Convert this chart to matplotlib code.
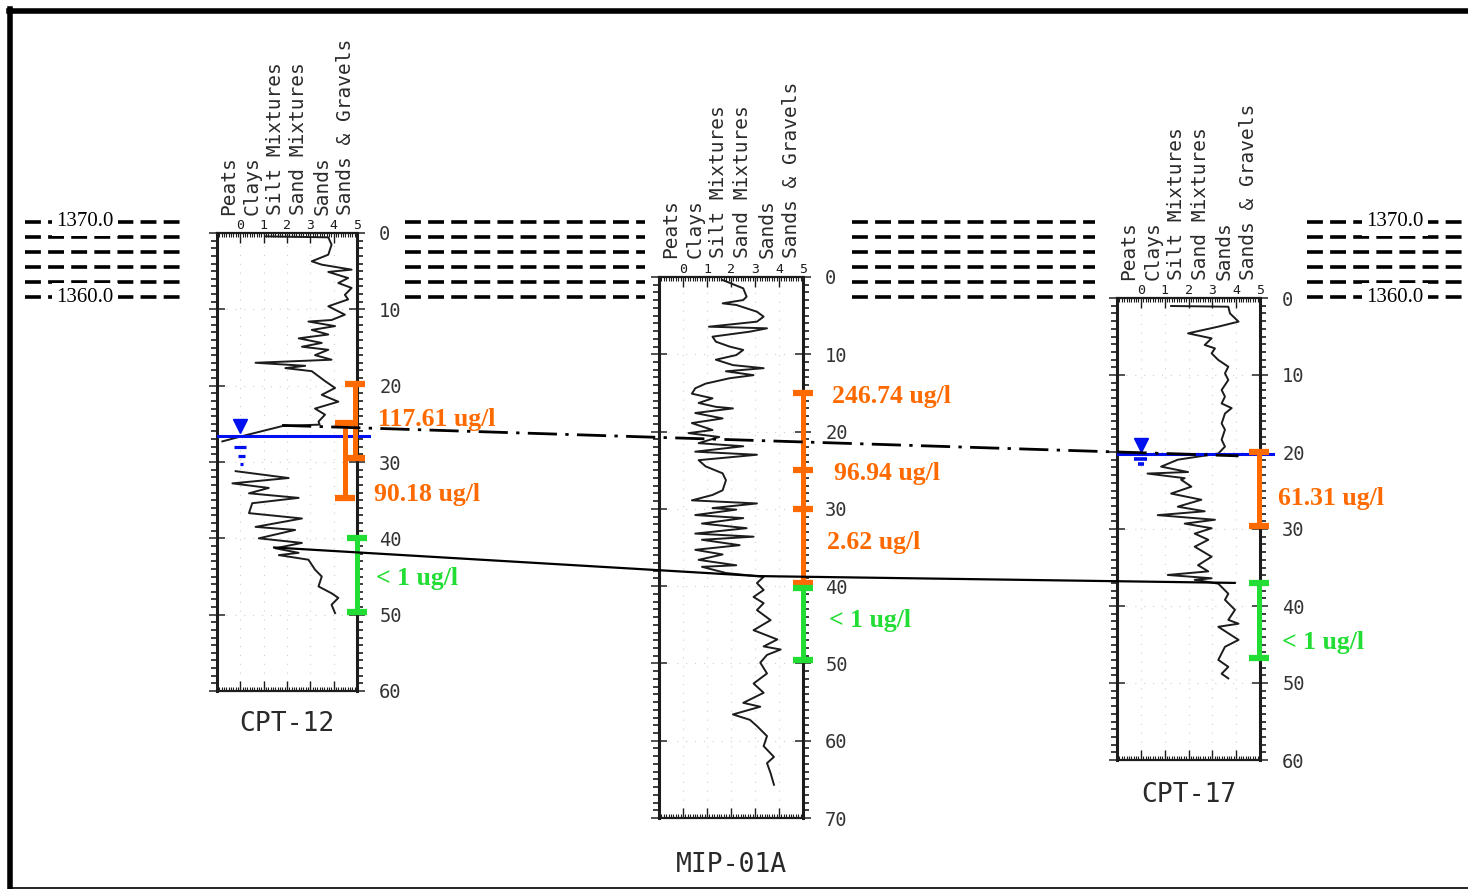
import numpy as np
import matplotlib.pyplot as plt

W, H = 1468, 889

# soil behaviour type traces: depth [ft], SBT index
cpt12_depth = [0.44, 0.57, 1.53, 2.84, 3.71, 4.15, 4.8, 5.1, 5.9, 6.55, 7.2, 8.1, 8.7, 9.6,
               10.7, 11.4, 11.6, 12.2, 12.7, 13.3, 13.8, 14.4, 14.9, 15.3, 16.0, 16.6, 17.0,
               17.4, 17.7, 18.1, 19.4, 20.3, 21.2, 22.1, 23.0, 23.8, 24.7, 25.1, 25.3, 26.6,
               27.3, np.nan, 31.2, 32.1, 32.8, 33.4, 34.1, 34.7, 35.4, 36.7, 37.4, 38.5, 38.9,
               40.0, 40.6, 41.3, 41.9, 42.2, 42.8, 44.1, 45.0, 46.3, 47.2, 47.8, 48.7, 49.8]
cpt12_sbt = [1.08, 3.77, 3.91, 3.77, 3.06, 3.49, 4.77, 3.77, 4.62, 4.2, 4.77, 4.48, 4.62, 3.77,
             4.48, 3.91, 2.92, 4.06, 3.06, 3.77, 2.5, 3.49, 2.64, 3.77, 3.2, 3.91, 0.65,
             2.78, 1.93, 3.06, 3.63, 4.06, 3.49, 4.2, 3.2, 3.63, 3.35, 3.4, 1.79, 0.09,
             -0.77, np.nan, -0.2, 2.07, -0.34, 1.22, 0.37, 2.5, 0.51, 0.37, 2.64, 0.65, 2.35,
             0.79, 2.64, 1.5, 2.5, 1.65, 2.92, 3.2, 3.49, 3.35, 3.91, 4.2, 3.91, 4.06]

mip_depth = [0.39, 1.47, 2.54, 2.98, 3.41, 3.62, 4.49, 5.13, 5.78, 6.43, 6.64, 7.07, 7.72,
             8.37, 9.0, 9.44, 10.1, 10.7, 11.4, 11.8, 12.2, 12.7, 13.1, 13.8, 14.4, 15.1,
             15.7, 16.3, 16.8, 17.0, 17.6, 18.3, 18.9, 19.8, 20.2, 20.7, 21.5, 21.9, 22.6,
             23.0, 23.7, 24.5, 25.4, 26.3, 27.6, 28.2, 28.9, 29.3, 29.9, 30.1, 30.8, 31.2,
             31.9, 32.5, 33.2, 33.6, 34.0, 34.7, 35.3, 35.9, 36.6, 37.3, 37.5, 38.3, 38.8,
             39.6, 40.5, 41.4, 42.2, 43.1, 44.4, 45.7, 46.9, 47.8, 48.2, 48.9, 49.9, 51.3,
             52.6, 53.8, 55.1, 55.6, 56.6, 57.3, 58.1, 59.4, 60.7, 62.1, 62.9, 64.2, 65.7]
mip_sbt = [1.65, 2.51, 2.65, 2.51, 1.65, 2.22, 3.08, 3.36, 3.08, 1.08, 3.5, 2.79, 1.23,
           1.37, 1.94, 2.51, 2.22, 1.37, 2.08, 3.36, 1.79, 2.94, 1.94, 0.94, 0.51, 0.37,
           1.23, 0.65, 1.37, 2.08, 0.51, 1.65, 0.37, 1.23, 0.23, 1.51, 0.65, 2.51, 0.51,
           3.08, 0.65, 0.94, 1.65, 1.79, 1.65, 1.23, 0.37, 3.08, 1.23, 2.22, 0.51, 2.51,
           0.79, 2.65, 0.51, 2.94, 0.79, 2.36, 0.51, 1.65, 0.65, 2.22, 0.79, 1.79, 3.36,
           3.08, 3.36, 2.94, 3.36, 3.08, 3.65, 2.94, 3.93, 3.36, 4.07, 3.5, 3.22, 3.5,
           2.94, 3.36, 2.51, 3.22, 2.08, 2.79, 3.08, 3.5, 3.36, 3.79, 3.5, 3.65, 3.79]

cpt17_depth = [1.04, 1.13, 2.0, 3.07, 3.29, 3.72, 4.59, 5.24, 6.1, 6.54, 7.19, 8.05, 8.92,
               9.78, 10.65, 11.95, 12.8, 13.7, 14.3, 15.0, 16.3, 17.1, 18.4, 19.3, 20.2,
               21.0, 21.9, 22.6, 22.8, 23.4, 23.6, 24.5, 25.4, 26.2, 27.1, 27.7, 28.2, 28.8,
               29.3, 29.9, 30.6, 31.4, 32.3, 33.6, 34.7, 35.5, 35.97, 36.4, 36.6, 37.1, 38.4,
               39.2, 40.5, 41.8, 42.3, 42.7, 44.4, 45.3, 47.0, 47.9, 48.8, 49.4]
cpt17_sbt = [1.27, 3.67, 3.74, 4.1, 3.81, 3.25, 1.98, 2.97, 2.68, 3.11, 2.97, 3.25, 3.67,
             3.53, 3.67, 3.39, 3.53, 3.39, 3.81, 3.53, 3.39, 3.53, 3.39, 3.53, 3.25,
             1.55, 0.85, 1.98, 0.28, 1.84, 1.69, 2.12, 1.27, 2.54, 1.55, 2.68, 0.71, 3.11,
             1.84, 2.97, 2.26, 2.83, 2.26, 2.97, 2.4, 2.83, 1.13, 2.97, 2.26, 3.25, 3.67,
             3.53, 3.95, 3.67, 4.1, 3.25, 4.1, 3.53, 3.25, 3.67, 3.39, 3.67]

soil_classes = ['Peats', 'Clays', 'Silt Mixtures', 'Sand Mixtures', 'Sands', 'Sands & Gravels']

# concentration intervals: (sbt position, top depth, bottom depth)
cpt12_orange = [(4.9, 19.8, 29.5), (4.47, 24.9, 34.7)]
cpt12_green = [(4.98, 40.0, 49.7)]
cpt12_labels = [('117.61 ug/l', 24.4, 'o'), ('90.18 ug/l', 34.2, 'o'), ('< 1 ug/l', 45.3, 'g')]
mip_orange = [(5.0, 15.0, 39.6)]
mip_orange_caps = [15.0, 25.0, 30.0, 39.6]
mip_green = [(5.0, 40.2, 49.6)]
mip_labels = [('246.74 ug/l', 15.4, 'o'), ('96.94 ug/l', 25.4, 'o'), ('2.62 ug/l', 34.4, 'o'),
              ('< 1 ug/l', 44.4, 'g')]
cpt17_orange = [(4.96, 20.0, 29.6)]
cpt17_green = [(4.96, 37.0, 46.8)]
cpt17_labels = [('61.31 ug/l', 26.1, 'o'), ('< 1 ug/l', 44.7, 'g')]

elevations = [1370, 1368, 1366, 1364, 1362, 1360]

ORANGE = '#ff6a00'
GREEN = '#22dd33'
BLUE = '#0010ee'
INK = '#1c1c1c'
MONO = 'DejaVu Sans Mono'

fig = plt.figure(figsize=(W / 100, H / 100), dpi=100)
fig.patch.set_facecolor('white')


def px_rect(l, r, t, b):
    return [l / W, 1 - b / H, (r - l) / W, (b - t) / H]


# elevation dashes (y axis in feet of elevation, x in pixels)
ev = fig.add_axes([0, 0, 1, 1])
ev.set_xlim(0, W)
ev.set_ylim(1370 - (H - 222) / 7.5, 1370 + 222 / 7.5)
ev.axis('off')
for x0, x1 in [(25, 185), (405, 645), (852, 1095), (1307, 1462)]:
    for e in elevations:
        ev.plot([x0, x1], [e, e], color='black', lw=2.6, dashes=(4.4, 2.0))
for xc in [85, 1395]:
    for e in [1370, 1360]:
        ev.text(xc, e, '%.1f' % e, ha='center', va='center', fontsize=15,
                family='Liberation Serif',
                bbox=dict(facecolor='white', edgecolor='none', pad=3))


def draw_log(rect, depth, sbt, dmax, name, name_depth):
    ax = fig.add_axes(rect)
    ax.set_xlim(-1, 5)
    ax.set_ylim(dmax, 0)
    ax.plot(sbt, depth, color=INK, lw=1.4)
    for xg in range(0, 5):
        ax.axvline(xg, color='#d0d0d0', lw=0.8, dashes=(1, 7), zorder=0)
    for dg in range(10, dmax, 10):
        ax.axhline(dg, color='#d0d0d0', lw=0.8, dashes=(1, 7), zorder=0)
    for side in ['left', 'right']:
        ax.spines[side].set_linewidth(2.2)
    for side in ['top', 'bottom']:
        ax.spines[side].set_linewidth(1.6)
    for s in ax.spines.values():
        s.set_color(INK)
    ax.set_xticks(range(0, 6))
    ax.set_xticks(np.arange(-1, 5.01, 0.1), minor=True)
    ax.tick_params(axis='x', which='major', top=True, bottom=True, labeltop=True,
                   labelbottom=False, direction='in', length=7, width=1, pad=1,
                   labelsize=9.5, colors=INK)
    ax.tick_params(axis='x', which='minor', top=True, bottom=True, direction='in',
                   length=3, width=0.8, colors=INK)
    ax.set_yticks(range(0, dmax + 1, 10))
    ax.set_yticks(range(0, dmax + 1), minor=True)
    ax.tick_params(axis='y', which='major', left=True, right=True, labelleft=False,
                   labelright=True, direction='inout', length=12, width=1.2, pad=10,
                   labelsize=13.5, colors='#333333')
    ax.tick_params(axis='y', which='minor', left=True, right=True, direction='out',
                   length=4, width=1.2, colors=INK)
    for lab in ax.get_yticklabels() + ax.get_xticklabels():
        lab.set_family(MONO)
    for i, c in enumerate(soil_classes):
        ax.text(i - 0.5, -2.4, c, rotation=90, ha='center', va='bottom', fontsize=14,
                family=MONO, color='#2a2a2a', clip_on=False)
    ax.text(2, name_depth, name, ha='center', va='center', fontsize=19,
            family=MONO, color='#2a2a2a', clip_on=False)
    return ax


def conc_bars(ax, bars, color, caps=None):
    for x, d0, d1 in bars:
        ax.plot([x, x], [d0, d1], color=color, lw=3.6, clip_on=False, zorder=5,
                solid_capstyle='butt')
        for d in (caps if caps else [d0, d1]):
            ax.plot([x - 0.43, x + 0.43], [d, d], color=color, lw=4.5, clip_on=False,
                    zorder=5, solid_capstyle='butt')


def conc_labels(ax, labels, x):
    for text, d, c in labels:
        ax.text(x, d, text, color=ORANGE if c == 'o' else GREEN, fontsize=18.5,
                fontweight='bold', family='Liberation Serif', va='center', ha='left',
                clip_on=False, zorder=6)


ax1 = draw_log(px_rect(217, 357, 233, 691), cpt12_depth, cpt12_sbt, 60, 'CPT-12', 64.3)
ax2 = draw_log(px_rect(659, 803, 277, 818), mip_depth, mip_sbt, 70, 'MIP-01A', 76.1)
ax3 = draw_log(px_rect(1117, 1260, 298, 760), cpt17_depth, cpt17_sbt, 60, 'CPT-17', 64.5)

conc_bars(ax1, cpt12_orange, ORANGE)
conc_bars(ax1, cpt12_green, GREEN)
conc_labels(ax1, cpt12_labels[:1], 5.9)
conc_labels(ax1, cpt12_labels[1:2], 5.74)
conc_labels(ax1, cpt12_labels[2:], 5.83)
conc_bars(ax2, mip_orange, ORANGE, caps=mip_orange_caps)
conc_bars(ax2, mip_green, GREEN)
conc_labels(ax2, mip_labels[:1], 6.2)
conc_labels(ax2, mip_labels[1:2], 6.28)
conc_labels(ax2, mip_labels[2:3], 5.98)
conc_labels(ax2, mip_labels[3:], 6.07)
conc_bars(ax3, cpt17_orange, ORANGE)
conc_bars(ax3, cpt17_green, GREEN)
conc_labels(ax3, cpt17_labels[:1], 5.76)
conc_labels(ax3, cpt17_labels[1:], 5.93)

# water tables
for ax, d, x1 in [(ax1, 26.6, 5.5), (ax3, 20.2, 5.55)]:
    ax.plot([-0.95, x1], [d, d], color=BLUE, lw=2.2, clip_on=False, zorder=4)
ax1.plot([0.0], [25.3], marker='v', ms=10, color=BLUE, zorder=6)
ax1.plot([-0.25, 0.25], [28.1, 28.1], color=BLUE, lw=2.3, solid_capstyle='butt')
ax1.plot([-0.12, 0.18], [29.2, 29.2], color=BLUE, lw=2.3, solid_capstyle='butt')
ax1.plot([-0.03, 0.13], [30.3, 30.3], color=BLUE, lw=2.3, solid_capstyle='butt')
ax3.plot([0.0], [19.1], marker='v', ms=10, color=BLUE, zorder=6)
ax3.plot([-0.28, 0.26], [20.9, 20.9], color=BLUE, lw=2.6, solid_capstyle='butt')
ax3.plot([-0.12, 0.12], [21.6, 21.6], color=BLUE, lw=2.6, solid_capstyle='butt')

# correlation lines between the logs
ov = fig.add_axes([0, 0, 1, 1])
ov.set_xlim(0, 1)
ov.set_ylim(0, 1)
ov.axis('off')
ov.patch.set_alpha(0)
to_fig = fig.transFigure.inverted()


def link(points, **kw):
    xy = np.array([to_fig.transform(a.transData.transform((v, d))) for a, v, d in points])
    ov.plot(xy[:, 0], xy[:, 1], **kw)


link([(ax1, 1.79, 25.2), (ax3, 4.1, 20.5)], color='black', lw=2.0,
     dashes=(10.5, 3, 1.2, 3))
link([(ax1, 1.45, 41.2), (ax2, 3.16, 38.7), (ax3, 3.94, 37.0)], color='black', lw=1.6)

# frame
ov.plot([0.006, 1], [1 - 11 / H, 1 - 11 / H], color='black', lw=4)
ov.plot([10 / W, 10 / W], [0, 1 - 9 / H], color='black', lw=4)
ov.plot([10 / W, 1], [1.5 / H, 1.5 / H], color='black', lw=1.2)

fig.savefig('out.png', dpi=100)
